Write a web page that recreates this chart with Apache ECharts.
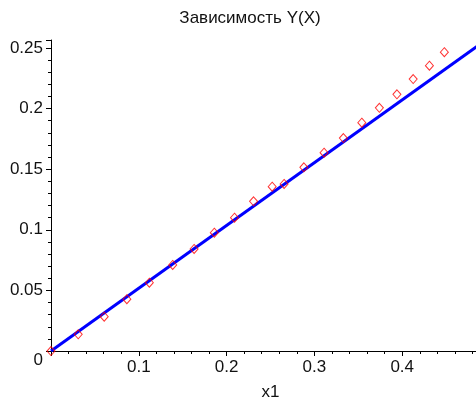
<!DOCTYPE html>
<html lang="ru">
  <head>
    <meta charset="UTF-8" />
    <title>Зависимость Y(X)</title>
    <style>
      * {
        margin: 0;
        padding: 0;
      }
      body {
        background: #ffffff;
      }
    </style>
  </head>
  <body>
    <div id="main" style="width: 476px; height: 401px;"></div>
    <script src="https://cdn.jsdelivr.net/npm/echarts@6/dist/echarts.min.js"></script>
    <script>
      // данные: точки эксперимента (x1, Y)
      let pointsX = [0, 0.031, 0.0606, 0.0864, 0.112, 0.1386, 0.163, 0.186, 0.209, 0.2307, 0.2519,
        0.2655, 0.288, 0.311, 0.333, 0.354, 0.374, 0.394, 0.4125, 0.431, 0.448];
      let pointsY = [0, 0.0138, 0.0283, 0.0427, 0.0564, 0.071, 0.0842, 0.0976, 0.11, 0.1235, 0.1356,
        0.1378, 0.1516, 0.1636, 0.1757, 0.1884, 0.2007, 0.2118, 0.2244, 0.2354, 0.2465];
      // аппроксимирующая прямая
      let lineX = [0, 0.5];
      let lineY = [0, 0.259];
      // подписи осей
      let xTicks = [0.1, 0.2, 0.3, 0.4];
      let yTicks = [0, 0.05, 0.1, 0.15, 0.2, 0.25];

      function draw() {
        let myEcharts = echarts.init(document.getElementById("main"));
        let font = "'Liberation Sans', Arial, sans-serif";
        let option = {
          backgroundColor: "#ffffff",
          animation: false,
          title: {
            text: "Зависимость Y(X)",
            left: 245,
            textAlign: "center",
            top: 5,
            textStyle: {
              fontFamily: font,
              fontSize: 17,
              fontWeight: "normal",
              color: "#111",
            },
          },
          grid: {
            left: 51,
            right: -14,
            top: 40,
            bottom: 50,
            containLabel: false,
            outerBoundsMode: "none",
          },
          xAxis: {
            type: "value",
            min: 0,
            max: 0.5,
            interval: 0.1,
            name: "x1",
            nameLocation: "middle",
            nameGap: 33,
            nameTextStyle: { fontFamily: font, fontSize: 17, color: "#111" },
            axisLine: { show: true, lineStyle: { color: "#000", width: 1 } },
            axisTick: { show: true, length: 5, lineStyle: { color: "#000" } },
            minorTick: { show: true, splitNumber: 5, length: 3, lineStyle: { color: "#000" } },
            axisLabel: {
              margin: 8,
              fontFamily: font,
              fontSize: 17,
              color: "#111",
              formatter: (v) => (xTicks.indexOf(v) >= 0 ? String(v) : ""),
            },
            splitLine: { show: false },
          },
          yAxis: {
            type: "value",
            min: 0,
            max: 0.2566,
            interval: 0.05,
            axisLine: { show: true, lineStyle: { color: "#000", width: 1 } },
            axisTick: { show: true, length: 5, lineStyle: { color: "#000" } },
            minorTick: { show: true, splitNumber: 5, length: 3, lineStyle: { color: "#000" } },
            axisLabel: {
              margin: 8,
              fontFamily: font,
              fontSize: 17,
              color: "#111",
              // ноль чуть ниже оси, как в оригинале
              formatter: (v) => (v === 0 ? "{z|0}" : yTicks.indexOf(v) >= 0 ? String(v) : ""),
              rich: {
                z: { fontFamily: font, fontSize: 17, color: "#111", padding: [18, 0, 0, 0] },
              },
            },
            splitLine: { show: false },
          },
          series: [
            {
              name: "Y",
              type: "line",
              data: lineX.map((x, i) => [x, lineY[i]]),
              symbol: "none",
              lineStyle: { color: "#0000ff", width: 3 },
              z: 2,
            },
            {
              name: "точки",
              type: "scatter",
              data: pointsX.map((x, i) => [x, pointsY[i]]),
              symbol: "diamond",
              symbolSize: [8, 9],
              itemStyle: {
                color: "rgba(255,255,255,0)",
                borderColor: "#ff0000",
                borderWidth: 1,
              },
              z: 3,
            },
          ],
        };
        myEcharts.setOption(option);
      }
      draw();
    </script>
  </body>
</html>
